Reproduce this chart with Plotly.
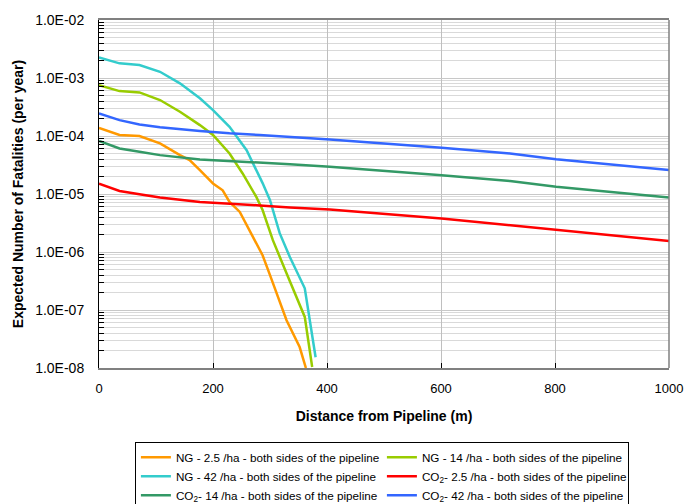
import plotly.graph_objects as go

# ---- data ----
ng25_x = [0, 36, 71, 107, 142, 159, 177, 200, 217, 229, 247, 267, 287, 300, 314, 329, 352, 363]
ng25_y = [1.38e-4, 1.04e-4, 1.0e-4, 7.45e-5, 4.68e-5, 3.84e-5, 2.58e-5, 1.52e-5, 1.16e-5, 7.3e-6,
          4.9e-6, 2.08e-6, 8.8e-7, 4.0e-7, 1.68e-7, 6.65e-8, 2.3e-8, 1.0e-8]

ng14_x = [0, 36, 71, 107, 142, 177, 200, 229, 252, 276, 287, 305, 329, 361, 374]
ng14_y = [7.5e-4, 5.95e-4, 5.65e-4, 4.17e-4, 2.62e-4, 1.54e-4, 1.04e-4, 5.0e-5, 2.26e-5, 8.9e-6,
          5.3e-6, 1.6e-6, 4.3e-7, 7.6e-8, 1.04e-8]

ng42_x = [0, 36, 71, 107, 142, 177, 200, 229, 259, 287, 300, 317, 335, 361, 380]
ng42_y = [2.25e-3, 1.79e-3, 1.67e-3, 1.28e-3, 8.1e-4, 4.46e-4, 2.8e-4, 1.44e-4, 5.7e-5, 1.54e-5,
          7.8e-6, 2.11e-6, 8.1e-7, 2.37e-7, 1.53e-8]

co2_x = [0, 36, 71, 107, 177, 229, 282, 335, 405, 601, 721, 802, 1000]
co2_25_y = [1.5e-5, 1.13e-5, 9.9e-6, 8.7e-6, 7.3e-6, 6.9e-6, 6.35e-6, 5.86e-6, 5.4e-6, 3.78e-6,
            2.9e-6, 2.44e-6, 1.55e-6]
co2_14_y = [8.2e-5, 6.1e-5, 5.34e-5, 4.68e-5, 3.94e-5, 3.73e-5, 3.5e-5, 3.27e-5, 2.94e-5, 2.11e-5,
            1.67e-5, 1.33e-5, 8.7e-6]
co2_42_y = [2.45e-4, 1.88e-4, 1.58e-4, 1.41e-4, 1.22e-4, 1.11e-4, 1.04e-4, 9.7e-5, 8.7e-5, 6.25e-5,
            5.0e-5, 3.99e-5, 2.58e-5]

y_tick_vals = [1e-2, 1e-3, 1e-4, 1e-5, 1e-6, 1e-7, 1e-8]
y_tick_text = ["1.0E-02", "1.0E-03", "1.0E-04", "1.0E-05", "1.0E-06", "1.0E-07", "1.0E-08"]
x_tick_vals = [0, 200, 400, 600, 800, 1000]

names = [
    "NG - 2.5 /ha - both sides of the pipeline",
    "NG - 14 /ha - both sides of the pipeline",
    "NG - 42 /ha - both sides of the pipeline",
    "CO<sub>2</sub>- 2.5 /ha - both sides of the pipeline",
    "CO<sub>2</sub>- 14 /ha - both sides of the pipeline",
    "CO<sub>2</sub>- 42 /ha - both sides of the pipeline",
]
colors = ["#FF9900", "#99CC00", "#33CCCC", "#FF0000", "#339966", "#3366FF"]
series = [
    (ng25_x, ng25_y), (ng14_x, ng14_y), (ng42_x, ng42_y),
    (co2_x, co2_25_y), (co2_x, co2_14_y), (co2_x, co2_42_y),
]

minor_vals = [m * 10.0 ** e for e in range(-8, -2) for m in range(2, 10)]

fig = go.Figure()
for (xs, ys), nm, c in zip(series, names, colors):
    fig.add_trace(go.Scatter(x=xs, y=ys, mode="lines", name=nm,
                             line=dict(color=c, width=2.5)))

font = "Liberation Sans, Arial, sans-serif"
fig.update_layout(
    width=688, height=504,
    margin=dict(l=99, r=19, t=20, b=136, autoexpand=False),
    paper_bgcolor="white", plot_bgcolor="white",
    font=dict(family=font, size=13, color="black"),
    showlegend=True,
    legend=dict(
        orientation="h", x=0.063, y=-0.212, xanchor="left", yanchor="top",
        bordercolor="black", borderwidth=1, bgcolor="white",
        font=dict(family=font, size=11.7, color="black"),
        entrywidth=201, entrywidthmode="pixels", tracegroupgap=0,
        itemwidth=30,
    ),
    xaxis=dict(
        range=[0, 1000], tickvals=x_tick_vals, ticks="inside", ticklen=5,
        tickcolor="black", showgrid=True, gridcolor="#BFBFBF", gridwidth=1,
        showline=True, linecolor="#808080", linewidth=2, mirror=True,
        zeroline=False, tickfont=dict(size=13), ticklabelstandoff=7,
        title=dict(text="<b>Distance from Pipeline (m)</b>", font=dict(size=14), standoff=17),
    ),
    yaxis=dict(
        type="log", range=[-8, -2], tickvals=y_tick_vals, ticktext=y_tick_text,
        ticks="", showgrid=True, gridcolor="#C8C8C8", gridwidth=1,
        showline=True, linecolor="black", linewidth=1, mirror=False,
        zeroline=False, tickfont=dict(size=14), ticklabelstandoff=11,
        minor=dict(tickmode="array", tickvals=minor_vals, showgrid=True,
                   gridcolor="#D9D9D9", gridwidth=1, ticks="inside", ticklen=5,
                   tickcolor="black"),
        title=dict(text="<b>Expected Number of Fatalities (per year)</b>", font=dict(size=14), standoff=8),
    ),
    shapes=[dict(type="line", xref="paper", yref="paper", x0=1, x1=1, y0=0, y1=1,
                 line=dict(color="#808080", width=1.5))],
)

fig.write_html("out.html", config={"displayModeBar": False},
               post_script="document.body.style.margin='0px';document.body.style.overflow='hidden';")
